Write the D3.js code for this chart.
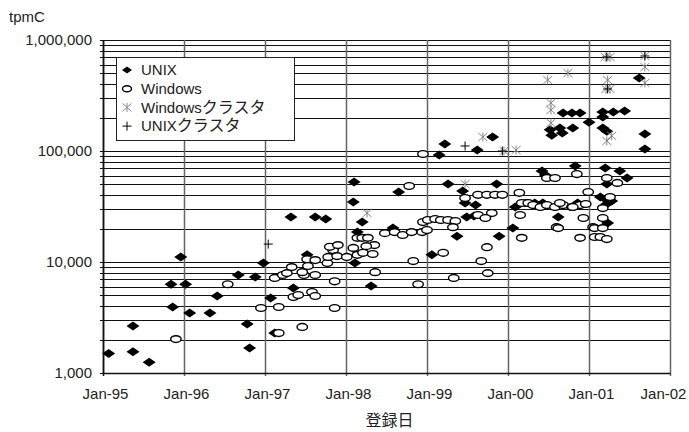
<!DOCTYPE html>
<html>
<head>
<meta charset="utf-8">
<script src="https://cdn.jsdelivr.net/npm/d3@7"></script>
<style>
  body { margin: 0; background: #fff; }
  svg text { font-family: 'Liberation Sans', Arial, sans-serif; fill: #222; }
</style>
</head>
<body>
<svg width="689" height="432"></svg>
<script>
// tpmC by registration date, log scale

const years = [1995, 1996, 1997, 1998, 1999, 2000, 2001, 2002];
const yearLabels = ['Jan-95', 'Jan-96', 'Jan-97', 'Jan-98', 'Jan-99', 'Jan-00', 'Jan-01', 'Jan-02'];
const seriesNames = ['UNIX', 'Windows', 'Windowsクラスタ', 'UNIXクラスタ'];

// [decimal year, tpmC]
const unix = [
  [1995.07, 1500], [1995.37, 2650], [1995.37, 1550], [1995.57, 1250], [1995.84, 6300], [1995.86, 3930],
  [1996.02, 6300], [1995.96, 11100], [1996.07, 3470], [1996.32, 3470], [1996.41, 4940], [1996.67, 7640],
  [1996.78, 2760], [1996.81, 1680], [1996.88, 7330], [1996.98, 9790], [1997.07, 4740], [1997.12, 2290],
  [1997.32, 25400], [1997.35, 5830], [1997.52, 11600], [1997.62, 25400], [1997.75, 24400],
  [1998.10, 52600], [1998.09, 34700], [1998.20, 22900], [1998.14, 18600], [1998.11, 9800], [1998.31, 6080],
  [1998.65, 42700], [1998.58, 20200],
  [1999.06, 11600], [1999.15, 92000], [1999.22, 115700], [1999.26, 50400], [1999.44, 43600], [1999.47, 34000],
  [1999.49, 25400], [1999.58, 26000], [1999.60, 32600], [1999.37, 17100], [1999.62, 102000], [1999.81, 133600],
  [1999.86, 50400], [1999.89, 17100],
  [2000.06, 20200], [2000.09, 31300], [2000.42, 66000], [2000.46, 60800], [2000.83, 73300], [2001.20, 70300],
  [2001.38, 66000], [2001.47, 57100], [2001.22, 50400], [2001.14, 38500], [2001.20, 37000], [2001.28, 35400],
  [2001.22, 33300], [2000.62, 25400], [2001.23, 22500], [2000.33, 34000], [2000.43, 34000], [2000.86, 34000],
  [2000.68, 220000], [2000.79, 220000], [2000.89, 220000], [2001.17, 225000], [2001.30, 225000], [2001.44, 229000],
  [2001.00, 182000], [2001.17, 202000], [2001.17, 161000], [2001.22, 151000], [2000.52, 155000], [2000.64, 161000],
  [2000.80, 161000], [2000.54, 139000], [2000.67, 145000], [2001.69, 142000], [2001.69, 104000], [2001.62, 455000]
];

const windows = [
  [1995.90, 2020], [1996.54, 6300], [1996.95, 3850], [1997.17, 2290], [1997.17, 3930], [1997.12, 7180],
  [1997.22, 7640], [1997.27, 7940], [1997.33, 9000], [1997.35, 4840], [1997.41, 5040], [1997.46, 2600],
  [1997.48, 7640], [1997.46, 8100], [1997.52, 10600], [1997.62, 10400], [1997.53, 9200], [1997.58, 5360],
  [1997.62, 4940], [1997.62, 7640], [1997.77, 9800], [1997.78, 11100], [1997.84, 12800], [1997.89, 11300],
  [1997.86, 6700], [1997.86, 3850], [1998.01, 11100], [1998.14, 11600], [1998.21, 12100], [1998.33, 11800],
  [1998.36, 8100], [1997.80, 13700], [1997.90, 14200], [1998.14, 16500], [1998.20, 16500], [1998.27, 16500],
  [1998.35, 14200], [1998.25, 13900], [1998.48, 18200], [1998.60, 18600], [1998.70, 17500], [1998.81, 18600],
  [1998.94, 18600], [1998.78, 48400], [1998.95, 94000], [1998.95, 22900], [1999.01, 23900], [1999.10, 24400],
  [1999.17, 23900], [1999.26, 23900], [1999.35, 23400], [1999.00, 19400], [1999.32, 20600], [1999.47, 37700],
  [1999.63, 40300], [1999.74, 40300], [1999.84, 40300], [1999.93, 40300], [2000.14, 42000], [2000.23, 34000],
  [2000.15, 26500], [2000.17, 16500], [1999.80, 27600], [1999.63, 26500], [1999.72, 24900], [1999.74, 13600],
  [1998.83, 10200], [1999.20, 12100], [1999.67, 10200], [1999.75, 7940], [1999.33, 7180], [1998.89, 6300],
  [1998.09, 13400], [2000.17, 34000], [2000.25, 34000], [2000.31, 32600], [2000.40, 31300], [2000.48, 32600],
  [2000.58, 31300], [2000.68, 32600], [2000.79, 31300], [2000.89, 32600], [2000.96, 33300], [2000.60, 20600],
  [2000.89, 16500], [2001.07, 16800], [2001.14, 16800], [2001.22, 16100], [2000.93, 24900], [2001.17, 24900],
  [2001.05, 20600], [2000.62, 20200], [2001.07, 20200], [2001.17, 20200], [2000.99, 42700], [2000.48, 57100],
  [2000.58, 57100], [2000.85, 62000], [2001.22, 57100], [2001.35, 51600], [2001.17, 30600], [2000.64, 34000],
  [2000.80, 31300], [2001.26, 38500]
];

const windowsCluster = [
  [1998.26, 27600], [1999.47, 50400], [1999.69, 133600], [1999.95, 100000], [2000.10, 102000],
  [2000.49, 436000], [2000.74, 504000], [2000.53, 271000], [2000.53, 234000], [2000.53, 179000],
  [2001.20, 703000], [2001.26, 703000], [2001.23, 436000], [2001.21, 362000], [2001.26, 362000],
  [2001.69, 718000], [2001.69, 571000], [2001.69, 410000], [2001.28, 137000], [2001.22, 123000]
];

const unixCluster = [
  [1997.04, 14500], [1999.47, 111000], [1999.93, 100000], [2001.22, 703000], [2001.23, 362000], [2001.69, 718000]
];

const margin = { top: 40, right: 19, bottom: 59, left: 103 };
const width = 689;
const height = 432;

const svg = d3.select('svg');

const x = d3.scaleLinear()
    .domain([1995, 2002])
    .range([margin.left, width - margin.right]);

const y = d3.scaleLog()
    .domain([1000, 1000000])
    .range([height - margin.bottom, margin.top]);

// horizontal grid: every 1..9 of each decade
const gridValues = [];
for (let p = 3; p < 6; p++) {
    for (let m = 1; m < 10; m++) gridValues.push(m * Math.pow(10, p));
}
gridValues.push(1000000);

svg.append('g')
    .selectAll('line')
    .data(gridValues)
    .enter().append('line')
    .attr('x1', margin.left - 3)
    .attr('x2', width - margin.right)
    .attr('y1', d => Math.round(y(d)) + 0.5)
    .attr('y2', d => Math.round(y(d)) + 0.5)
    .attr('stroke', '#111')
    .attr('stroke-width', 1);

// vertical grid at each year
svg.append('g')
    .selectAll('line')
    .data(years)
    .enter().append('line')
    .attr('x1', d => Math.round(x(d)) + 0.5)
    .attr('x2', d => Math.round(x(d)) + 0.5)
    .attr('y1', margin.top)
    .attr('y2', height - margin.bottom + 3)
    .attr('stroke', d => d === 1995 ? '#111' : '#666')
    .attr('stroke-width', 1.5);

// axes
const xAxis = d3.axisBottom(x)
    .tickValues(years)
    .tickFormat((d, i) => yearLabels[i])
    .tickSize(0)
    .tickPadding(15);

svg.append('g')
    .attr('transform', `translate(0,${height - margin.bottom})`)
    .call(xAxis)
    .call(g => g.select('.domain').attr('stroke', '#111').attr('stroke-width', 1.5))
    .selectAll('text')
    .style('font-size', '15px')
    .attr('fill', '#222')
    .attr('dx', (d, i) => i === years.length - 1 ? -7 : 2);

const yAxis = d3.axisLeft(y)
    .tickValues([1000, 10000, 100000, 1000000])
    .tickFormat(d3.format(','))
    .tickSize(0)
    .tickPadding(11);

svg.append('g')
    .attr('transform', `translate(${margin.left},0)`)
    .call(yAxis)
    .call(g => g.select('.domain').attr('stroke', '#111').attr('stroke-width', 1.5))
    .selectAll('text')
    .style('font-size', '15px')
    .attr('fill', '#222');

svg.append('text')
    .attr('x', 9)
    .attr('y', 22)
    .style('font-size', '15px')
    .text('tpmC');

svg.append('text')
    .attr('x', (x(1995) + x(2002)) / 2 + 3)
    .attr('y', 426)
    .attr('text-anchor', 'middle')
    .style('font-family', "'Noto Sans CJK JP', sans-serif")
    .style('font-size', '16px')
    .text('登録日');

// markers
const diamond = 'M0,-4.5L6.5,0L0,4.5L-6.5,0Z';
const star = 'M-4.5,-4L4.5,4M-4.5,4L4.5,-4M0,-4.5L0,4.5';
const plus = 'M-4.5,0L4.5,0M0,-4.5L0,4.5';

const plot = svg.append('g');

plot.selectAll('.unix')
    .data(unix)
    .enter().append('path')
    .attr('class', 'unix')
    .attr('d', diamond)
    .attr('transform', d => `translate(${x(d[0])},${y(d[1])})`)
    .attr('fill', '#000');

plot.selectAll('.windows')
    .data(windows)
    .enter().append('ellipse')
    .attr('class', 'windows')
    .attr('cx', d => x(d[0]))
    .attr('cy', d => y(d[1]))
    .attr('rx', 5.2)
    .attr('ry', 3.4)
    .attr('fill', '#fff')
    .attr('stroke', '#000')
    .attr('stroke-width', 1.4);

plot.selectAll('.wcluster')
    .data(windowsCluster)
    .enter().append('path')
    .attr('class', 'wcluster')
    .attr('d', star)
    .attr('transform', d => `translate(${x(d[0])},${y(d[1])})`)
    .attr('fill', 'none')
    .attr('stroke', '#888')
    .attr('stroke-width', 1);

plot.selectAll('.ucluster')
    .data(unixCluster)
    .enter().append('path')
    .attr('class', 'ucluster')
    .attr('d', plus)
    .attr('transform', d => `translate(${x(d[0])},${y(d[1])})`)
    .attr('fill', 'none')
    .attr('stroke', '#000')
    .attr('stroke-width', 1);

// legend
const legend = svg.append('g')
    .attr('transform', 'translate(116,57)');

legend.append('rect')
    .attr('x', 0.5)
    .attr('y', 0.5)
    .attr('width', 178)
    .attr('height', 83)
    .attr('fill', '#fff')
    .attr('stroke', '#222')
    .attr('stroke-width', 1);

const markerFor = [
    g => g.append('path').attr('d', 'M0,-3.5L5,0L0,3.5L-5,0Z').attr('fill', '#000'),
    g => g.append('ellipse').attr('rx', 4.5).attr('ry', 3).attr('fill', '#fff').attr('stroke', '#000').attr('stroke-width', 1.4),
    g => g.append('path').attr('d', star).attr('stroke', '#888').attr('fill', 'none'),
    g => g.append('path').attr('d', plus).attr('stroke', '#000').attr('fill', 'none')
];

const item = legend.selectAll('.item')
    .data(seriesNames)
    .enter().append('g')
    .attr('class', 'item')
    .attr('transform', (d, i) => `translate(0,${13 + i * 18.7})`);

item.each(function (d, i) {
    const g = d3.select(this).append('g').attr('transform', 'translate(11,0)');
    markerFor[i](g);
});

const label = item.append('text')
    .attr('x', 25)
    .attr('dy', '0.35em')
    .style('font-size', '15px');

label.append('tspan').text(d => d.replace('クラスタ', ''));
label.append('tspan')
    .style('font-family', "'Noto Sans CJK JP', sans-serif")
    .style('font-size', '16px')
    .text(d => d.includes('クラスタ') ? 'クラスタ' : '');
</script>
</body>
</html>
